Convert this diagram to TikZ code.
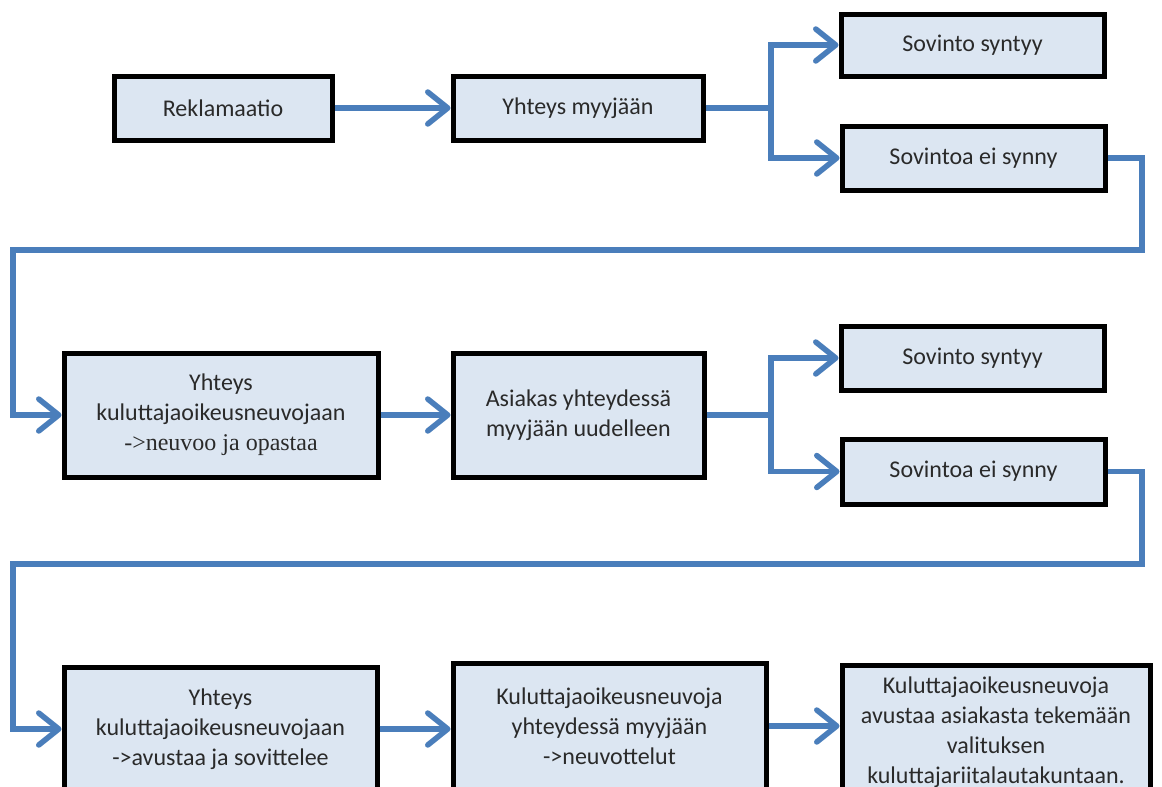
\documentclass[tikz,border=0pt]{standalone}
\usepackage{fontspec}
\setmainfont{Carlito}
\newfontfamily\tnr{Liberation Serif}
\usetikzlibrary{arrows.meta}
\definecolor{boxfill}{HTML}{DCE6F2}
\definecolor{linkblue}{HTML}{4A7EBB}
\definecolor{txt}{HTML}{2A2A2A}
\begin{document}
\begin{tikzpicture}[x=1pt,y=-1pt,
  box/.style={draw=black, line width=5pt, fill=boxfill, rectangle, inner sep=0pt,
    text=txt, align=center, font=\fontsize{24}{30}\selectfont},
  conn/.style={draw=linkblue, line width=5.5pt},
  arr/.style={conn, -{Straight Barb[length=20pt,width=32pt,round]}}]
\useasboundingbox (0,0) rectangle (1162,787);
\fill[white] (0,0) rectangle (1162,787);
\clip (0,0) rectangle (1162,787);

% row 1
\node[box, minimum width=218pt, minimum height=64pt] (r1a) at (223,108) {Reklamaatio};
\node[box, minimum width=250pt, minimum height=64pt] (r1b) at (578,108) {Yhteys myyjään};
\node[box, minimum width=263pt, minimum height=62pt] (r1c) at (972.5,45) {Sovinto syntyy};
\node[box, minimum width=263pt, minimum height=64pt] (r1d) at (973.5,158) {Sovintoa ei synny};

% row 2
\node[box, minimum width=314pt, minimum height=124pt] (r2a) at (221,415)
  {Yhteys\\kuluttajaoikeusneuvojaan\\{\tnr ->neuvoo ja opastaa}};
\node[box, minimum width=251pt, minimum height=124pt] (r2b) at (578.5,415)
  {Asiakas yhteydessä\\myyjään uudelleen};
\node[box, minimum width=263pt, minimum height=64pt] (r2c) at (972.5,358) {Sovinto syntyy};
\node[box, minimum width=263pt, minimum height=65pt] (r2d) at (973.5,471.5) {Sovintoa ei synny};

% row 3
\node[box, minimum width=313pt, minimum height=124pt] (r3a) at (220.5,729)
  {Yhteys\\kuluttajaoikeusneuvojaan\\->avustaa ja sovittelee};
\node[box, minimum width=313pt, minimum height=126pt] (r3b) at (609.5,726)
  {Kuluttajaoikeusneuvoja\\yhteydessä myyjään\\->neuvottelut};
\node[box, minimum width=308pt, minimum height=134pt] (r3c) at (996,732)
  {Kuluttajaoikeusneuvoja\\avustaa asiakasta tekemään\\valituksen\\kuluttajariitalautakuntaan.};

% coordinates
\coordinate (b1) at (771,108);
\coordinate (b2) at (771,415);
\coordinate (l1a) at (1142,250);
\coordinate (l1b) at (13,250);
\coordinate (l2a) at (1142,564);
\coordinate (l2b) at (13,564);

% connectors row 1
\draw[arr] (r1a.east) -- (r1b.west);
\draw[conn] (r1b.east) -- (b1);
\draw[arr] (b1) |- (r1c.west);
\draw[arr] (b1) |- (r1d.west);
\draw[arr] (r1d.east) -| (l1a) -- (l1b) |- (r2a.west);

% connectors row 2
\draw[arr] (r2a.east) -- (r2b.west);
\draw[conn] (r2b.east) -- (b2);
\draw[arr] (b2) |- (r2c.west);
\draw[arr] (b2) |- (r2d.west);
\draw[arr] (r2d.east) -| (l2a) -- (l2b) |- (r3a.west);

% connectors row 3
\draw[arr] (r3a.east) -- (r3a.east -| r3b.west);
\draw[arr] (r3b.east) -- (r3b.east -| r3c.west);
\end{tikzpicture}
\end{document}
